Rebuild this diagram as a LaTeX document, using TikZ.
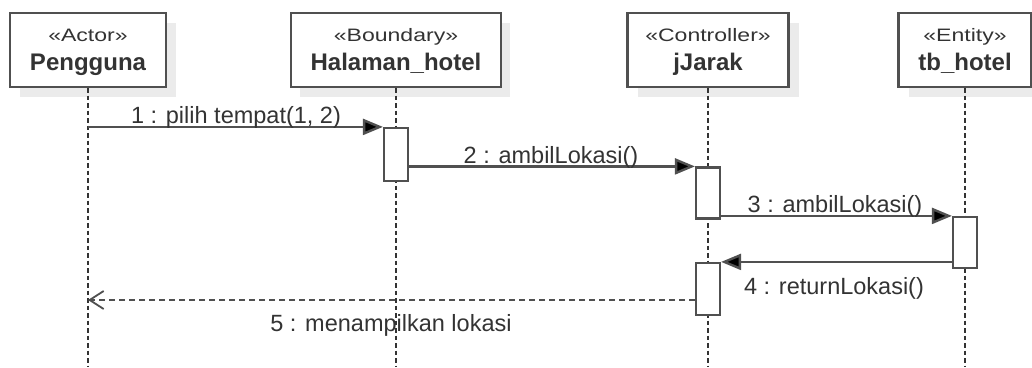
\documentclass[tikz,border=0pt]{standalone}
\usepackage{fontspec}
\setmainfont{Liberation Sans}
\newfontfamily\stereofont[FakeStretch=1.28]{Liberation Sans}
\usetikzlibrary{arrows.meta}
\definecolor{txt}{HTML}{333333}
\definecolor{brd}{HTML}{505050}
\definecolor{shd}{HTML}{EBEBEB}
\tikzset{
  head/.style={draw=brd, line width=2.2pt, fill=white, minimum height=74pt, inner sep=0pt},
  headshadow/.style={fill=shd, draw=none, minimum height=74pt, inner sep=0pt},
  act/.style={draw=brd, line width=2.2pt, fill=white, minimum width=24pt, inner sep=0pt},
  life/.style={draw=txt, line width=2.5pt, dash pattern=on 4.5pt off 3pt},
  msg/.style={draw=brd, line width=2.4pt, -{Triangle[length=20pt,width=16pt,fill=black]}},
  ret/.style={draw=brd, line width=2pt, dash pattern=on 6pt off 4pt, -{Straight Barb[length=14pt,width=18pt,line width=1.8pt]}},
  stereo/.style={text=txt, inner sep=0pt, anchor=base, font=\stereofont\fontsize{18}{21}\selectfont},
  nm/.style={text=txt, inner sep=0pt, anchor=base, font=\bfseries\fontsize{24}{28}\selectfont},
  lbl/.style={text=txt, inner sep=0pt, anchor=base, font=\fontsize{23.5}{28}\selectfont},
}
\begin{document}
\begin{tikzpicture}[x=1pt,y=-1pt]
\useasboundingbox (0,0) rectangle (1032,367);
% shadows
\node[headshadow, minimum width=156pt] (Ps) at (98,60) {};
\node[headshadow, minimum width=210pt] (Hs) at (405,60) {};
\node[headshadow, minimum width=161pt] (Js) at (718,60) {};
\node[headshadow, minimum width=133pt] (Ts) at (975,60) {};
% heads
\node[head, minimum width=156pt] (P) at (88,50) {};
\node[head, minimum width=210pt] (H) at (396,50) {};
\node[head, minimum width=161pt] (J) at (708,50) {};
\node[head, minimum width=133pt] (T) at (965,50) {};
\node[stereo] (Pst) at (88,41) {«Actor»};
\node[nm] (Pnm) at (88,70) {Pengguna};
\node[stereo] (Hst) at (396,41) {«Boundary»};
\node[nm] (Hnm) at (396,70) {Halaman\_hotel};
\node[stereo] (Jst) at (708,41) {«Controller»};
\node[nm] (Jnm) at (708,70) {jJarak};
\node[stereo] (Tst) at (965,41) {«Entity»};
\node[nm] (Tnm) at (965,70) {tb\_hotel};
% lifeline ends
\coordinate (Pe) at (88,367);
\coordinate (He) at (396,367);
\coordinate (Je) at (708,367);
\coordinate (Te) at (965,367);
\draw[life] (P.south) -- (Pe);
\draw[life] (H.south) -- (He);
\draw[life] (J.south) -- (Je);
\draw[life] (T.south) -- (Te);
% activations
\node[act, minimum height=53pt] (a1) at (396,154.5) {};
\node[act, minimum height=51pt] (a2) at (708,193) {};
\node[act, minimum height=51pt] (a3) at (965,242.5) {};
\node[act, minimum height=52pt] (a4) at (708,289) {};
% messages
\draw[msg] (P |- a1.north west) -- (a1.north west);
\node[lbl] (l1) at (236,123) {1 : pilih tempat(1, 2)};
\draw[msg] (a2.north west -| a1.east) -- (a2.north west);
\node[lbl] (l2) at (551,163) {2 : ambilLokasi()};
\draw[msg] (a3.north west -| a2.east) -- (a3.north west);
\node[lbl] (l3) at (835,212) {3 : ambilLokasi()};
\draw[msg] (a4.north east -| a3.west) -- (a4.north east);
\node[lbl] (l4) at (834,294) {4 : returnLokasi()};
\path (a4.west) ++(0,11) coordinate (m5s);
\draw[ret] (m5s) -- (P |- m5s);
\node[lbl] (l5) at (391,331) {5 : menampilkan lokasi};
\end{tikzpicture}
\end{document}
